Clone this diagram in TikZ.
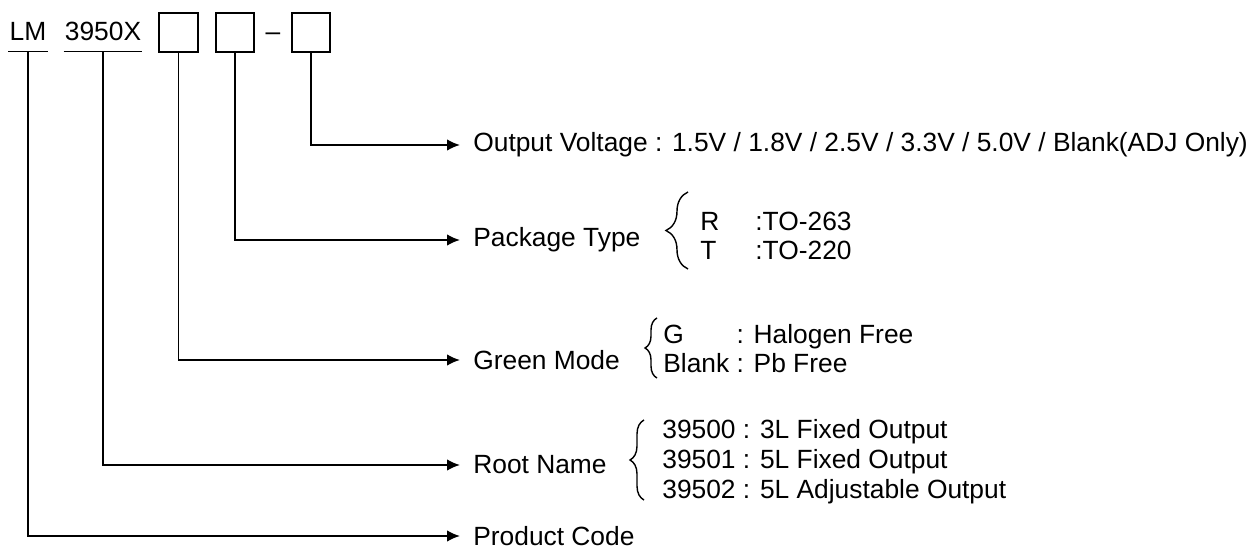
\documentclass[tikz,border=0pt]{standalone}
\usepackage{fontspec}
\setmainfont{Liberation Sans}
\usetikzlibrary{arrows.meta,decorations.pathreplacing}

\tikzset{
	code/.style={anchor=base, inner xsep=0.5pt, inner ysep=0pt, text depth=0.2cm},
	sel/.style={draw, line width=0.9pt, minimum size=0.77cm, inner sep=0pt},
	lbl/.style={anchor=west, inner xsep=0.26cm, inner ysep=0pt},
	opts/.style={anchor=west, inner sep=0pt},
	lead/.style={line width=0.9pt, -{Latex[length=0.26cm,width=0.23cm]}},
	brc/.style={decorate, decoration={brace, amplitude=#1}, line width=0.8pt},
}

\begin{document}
\begin{tikzpicture}[x=0.02cm, y=-0.02cm, font=\fontsize{15}{17}\selectfont]
	\useasboundingbox (0,0) rectangle (1251,550);

	\node[code] (lm) at (28,41) {LM};
	\node[code] (root) at (103,41) {3950X};
	\draw[line width=0.9pt] (lm.south west) -- (lm.south east);
	\draw[line width=0.9pt] (root.south west) -- (root.south east);

	\node[sel] (green) at (178.5,32.5) {};
	\node[sel] (pkg) at (235,32.5) {};
	\node[anchor=base, inner sep=0pt] (dash) at (273,41) {--};
	\node[sel] (volt) at (311,32.5) {};

	\node[lbl] (voltlbl) at (460,145) {Output Voltage : 1.5V / 1.8V / 2.5V / 3.3V / 5.0V / Blank(ADJ Only)};
	\node[lbl] (pkglbl) at (460,240) {Package Type};
	\node[lbl] (greenlbl) at (460,360) {Green Mode};
	\node[lbl] (rootlbl) at (460,465) {Root Name};
	\node[lbl] (lmlbl) at (460,536) {Product Code};

	\draw[brc=0.44cm] (688,269) -- (688,192);
	\node[opts] (pkglist) at (700,239) {\begin{tabular}{@{}l@{\hspace{0.72cm}}l@{}}R & :TO-263\\ T & :TO-220\end{tabular}};

	\draw[brc=0.24cm] (657,378) -- (657,318);
	\node[opts] (greenlist) at (663,352) {\begin{tabular}{@{}l@{ }l@{}}G & : Halogen Free\\ Blank & : Pb Free\end{tabular}};

	\draw[brc=0.28cm] (644,500) -- (644,420);
	\node[opts, align=left] (rootlist) at (662,462) {39500 : 3L Fixed Output\\ 39501 : 5L Fixed Output\\ 39502 : 5L Adjustable Output};

	\draw[lead] (volt.south) |- (voltlbl.west);
	\draw[lead] (pkg.south) |- (pkglbl.west);
	\draw[lead] (green.south) |- (greenlbl.west);
	\draw[lead] (root.south) |- (rootlbl.west);
	\draw[lead] (lm.south) |- (lmlbl.west);
\end{tikzpicture}
\end{document}
